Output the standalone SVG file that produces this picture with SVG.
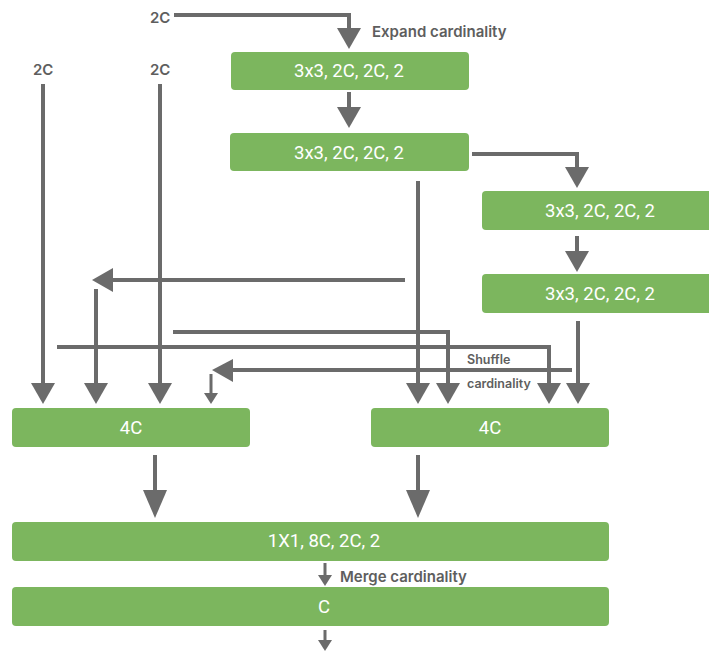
<svg xmlns="http://www.w3.org/2000/svg" width="709" height="652" viewBox="0 0 709 652">
  <style>
    .box { fill: #7cb65e; }
    .lbl { font-family: Roboto, "Noto Sans", sans-serif; font-size: 18.5px; fill: #ffffff; text-anchor: middle; dominant-baseline: central; }
    .note { font-family: Inter, "Noto Sans", sans-serif; font-size: 15px; font-weight: 600; fill: #5e5e5e; dominant-baseline: central; font-feature-settings: "calt" 0; }
    .small { font-size: 12.5px; }
    .wire { fill: none; stroke: #6b6b6b; stroke-width: 4; }
    .thin { stroke-width: 3; }
    .head { fill: #6b6b6b; }
  </style>
  <rect width="709" height="652" fill="#ffffff"/>

  <!-- blocks -->
  <g id="conv-a"><rect class="box" x="231" y="52" width="238" height="38" rx="4"/><text class="lbl" x="349" y="71">3x3, 2C, 2C, 2</text></g>
  <g id="conv-b"><rect class="box" x="230" y="133" width="239" height="38" rx="4"/><text class="lbl" x="349" y="153">3x3, 2C, 2C, 2</text></g>
  <g id="conv-c"><rect class="box" x="482" y="191" width="236" height="39" rx="4"/><text class="lbl" x="600" y="211">3x3, 2C, 2C, 2</text></g>
  <g id="conv-d"><rect class="box" x="482" y="274" width="236" height="39" rx="4"/><text class="lbl" x="600" y="294">3x3, 2C, 2C, 2</text></g>
  <g id="concat-left"><rect class="box" x="12" y="408" width="238" height="39" rx="4"/><text class="lbl" x="131" y="428">4C</text></g>
  <g id="concat-right"><rect class="box" x="371" y="408" width="238" height="39" rx="4"/><text class="lbl" x="490" y="428">4C</text></g>
  <g id="merge-conv"><rect class="box" x="12" y="522" width="597" height="39" rx="4"/><text class="lbl" x="324" y="541">1X1, 8C, 2C, 2</text></g>
  <g id="output"><rect class="box" x="12" y="587" width="597" height="39" rx="4"/><text class="lbl" x="324" y="607">C</text></g>

  <!-- labels -->
  <g id="labels">
    <text class="note" x="150" y="17">2C</text>
    <text class="note" x="33" y="69">2C</text>
    <text class="note" x="150" y="69">2C</text>
    <text class="note" x="372" y="31">Expand cardinality</text>
    <text class="note small" x="467" y="359">Shuffle</text>
    <text class="note small" x="467" y="383">cardinality</text>
    <text class="note" x="340" y="576">Merge cardinality</text>
  </g>

  <!-- connectors -->
  <g id="connectors">
    <!-- expand -->
    <path class="wire" d="M174,15 H349 V32"/>
    <path class="head" d="M337,28 H361 L349,49 Z"/>
    <path class="wire" d="M349,92 V112"/>
    <path class="head" d="M337,107 H361 L349,128 Z"/>
    <path class="wire" d="M472,154 H577 V172"/>
    <path class="head" d="M565,167 H589 L577,188 Z"/>
    <path class="wire" d="M577,236 V255"/>
    <path class="head" d="M565,251 H589 L577,272 Z"/>

    <!-- inputs to left concat -->
    <path class="wire" d="M43,84 V388"/>
    <path class="head" d="M31,383 H55 L43,404 Z"/>
    <path class="wire" d="M160,84 V388"/>
    <path class="head" d="M148,383 H172 L160,404 Z"/>
    <path class="wire" d="M405,280 H108"/>
    <path class="head" d="M113,268 V292 L92,280 Z"/>
    <path class="wire" d="M96,289 V388"/>
    <path class="head" d="M84,383 H108 L96,404 Z"/>
    <path class="wire" d="M572,370 H228"/>
    <path class="head" d="M233,359 V382 L212,370 Z"/>
    <path class="wire thin" d="M211,374 V395"/>
    <path class="head" d="M204,393 H218 L211,404 Z"/>

    <!-- inputs to right concat -->
    <path class="wire" d="M418,181 V388"/>
    <path class="head" d="M406,383 H430 L418,404 Z"/>
    <path class="wire" d="M173,332 H448 V388"/>
    <path class="head" d="M436,383 H460 L448,404 Z"/>
    <path class="wire" d="M57,347 H549 V388"/>
    <path class="head" d="M537,383 H561 L549,404 Z"/>
    <path class="wire" d="M578,321 V388"/>
    <path class="head" d="M566,383 H590 L578,404 Z"/>

    <!-- concat to merge -->
    <path class="wire" d="M155,455 V495"/>
    <path class="head" d="M143,490 H167 L155,518 Z"/>
    <path class="wire" d="M418,455 V495"/>
    <path class="head" d="M406,490 H430 L418,518 Z"/>

    <!-- merge and output -->
    <path class="wire thin" d="M325,563 V577"/>
    <path class="head" d="M318,575 H332 L325,586 Z"/>
    <path class="wire thin" d="M325,630 V642"/>
    <path class="head" d="M318,640 H332 L325,651 Z"/>
  </g>
</svg>
